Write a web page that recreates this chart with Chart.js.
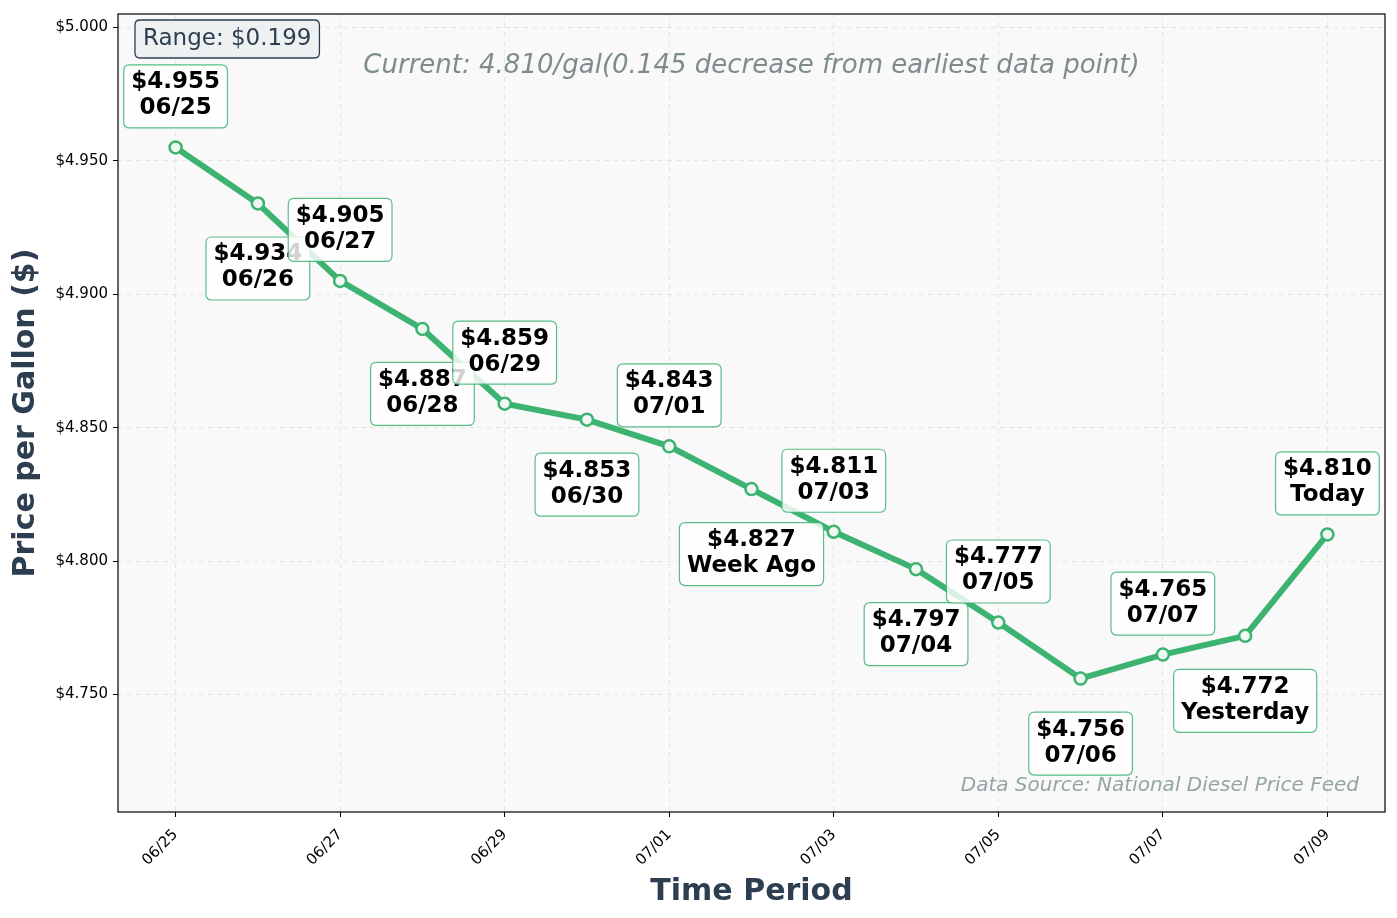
<!DOCTYPE html>
<html>
<head>
<meta charset="utf-8">
<script src="https://cdn.jsdelivr.net/npm/chart.js@4.4.1/dist/chart.umd.min.js"></script>
<style>
  html, body { margin: 0; padding: 0; background: #ffffff; }
  #wrap { position: relative; width: 1397px; height: 918px; }
</style>
</head>
<body>
<div id="wrap"><canvas id="chart" width="1397" height="918"></canvas></div>
<script>
const dates = ['06/25','06/26','06/27','06/28','06/29','06/30','07/01','07/02','07/03','07/04','07/05','07/06','07/07','07/08','07/09'];
const prices = [4.955, 4.934, 4.905, 4.887, 4.859, 4.853, 4.843, 4.827, 4.811, 4.797, 4.777, 4.756, 4.765, 4.772, 4.810];
const pointNames = ['06/25','06/26','06/27','06/28','06/29','06/30','07/01','Week Ago','07/03','07/04','07/05','07/06','07/07','Yesterday','Today'];
const yTicks = [4.750, 4.800, 4.850, 4.900, 4.950, 5.000];
const xTicks = [0, 2, 4, 6, 8, 10, 12, 14];

const green = '#3cb371', navy = '#2c3e50';
const FONT = "'DejaVu Sans', sans-serif";

const yMin = Math.min(...prices) - 0.05, yMax = Math.max(...prices) + 0.05;
const first = prices[0], last = prices[prices.length - 1];
const range = Math.max(...prices) - Math.min(...prices);

function roundRect(ctx, x, y, w, h, r) {
  ctx.beginPath();
  ctx.moveTo(x + r, y);
  ctx.lineTo(x + w - r, y);
  ctx.quadraticCurveTo(x + w, y, x + w, y + r);
  ctx.lineTo(x + w, y + h - r);
  ctx.quadraticCurveTo(x + w, y + h, x + w - r, y + h);
  ctx.lineTo(x + r, y + h);
  ctx.quadraticCurveTo(x, y + h, x, y + h - r);
  ctx.lineTo(x, y + r);
  ctx.quadraticCurveTo(x, y, x + r, y);
  ctx.closePath();
}

const decorPlugin = {
  id: 'decor',
  beforeDraw(chart) {
    const { ctx, chartArea: a } = chart;
    ctx.save();
    ctx.fillStyle = '#f9f9f9';
    ctx.fillRect(a.left, a.top, a.right - a.left, a.bottom - a.top);
    ctx.restore();
  },
  afterDatasetsDraw(chart) {
    const { ctx, chartArea: a } = chart;
    const xs = chart.scales.x, ys = chart.scales.y;
    ctx.save();
    // point annotations
    ctx.font = "bold 23px " + FONT;
    prices.forEach((p, i) => {
      const px = xs.getPixelForValue(i), py = ys.getPixelForValue(p);
      const cy = i % 2 === 0 ? py - 51 : py + 65;
      const l1 = '$' + p.toFixed(3), l2 = pointNames[i];
      const tw = Math.max(ctx.measureText(l1).width, ctx.measureText(l2).width);
      const w = tw + 15, h = 63;
      roundRect(ctx, px - w / 2, cy - h / 2, w, h, 6);
      ctx.fillStyle = 'rgba(255,255,255,0.82)';
      ctx.fill();
      ctx.lineWidth = 1.2;
      ctx.strokeStyle = 'rgba(60,179,113,0.85)';
      ctx.stroke();
      ctx.fillStyle = '#000';
      ctx.textAlign = 'center';
      ctx.textBaseline = 'middle';
      ctx.fillText(l1, px, cy - 14);
      ctx.fillText(l2, px, cy + 12);
    });
    // range box
    ctx.font = "23px " + FONT;
    const rt = 'Range: $' + range.toFixed(3);
    const rw = ctx.measureText(rt).width + 16;
    roundRect(ctx, 135, 20, rw, 38, 5);
    ctx.fillStyle = 'rgba(236,240,241,0.9)';
    ctx.fill();
    ctx.lineWidth = 1.3;
    ctx.strokeStyle = navy;
    ctx.stroke();
    ctx.fillStyle = navy;
    ctx.textAlign = 'left';
    ctx.textBaseline = 'middle';
    ctx.fillText(rt, 143, 39);
    // current text
    ctx.font = "italic 26px " + FONT;
    ctx.fillStyle = '#7f8c8d';
    ctx.textAlign = 'center';
    const diff = first - last;
    ctx.fillText('Current: ' + last.toFixed(3) + '/gal(' + Math.abs(diff).toFixed(3) + ' ' + (diff > 0 ? 'decrease' : 'increase') + ' from earliest data point)', (a.left + a.right) / 2, 66);
    // source
    ctx.font = "italic 20px " + FONT;
    ctx.fillStyle = '#95a5a6';
    ctx.textAlign = 'right';
    ctx.fillText('Data Source: National Diesel Price Feed', a.right - 26, 786);
    // frame
    ctx.lineWidth = 1.2;
    ctx.strokeStyle = '#000';
    ctx.strokeRect(a.left, a.top, a.right - a.left, a.bottom - a.top);
    ctx.restore();
  }
};

new Chart(document.getElementById('chart'), {
  type: 'line',
  data: {
    datasets: [{
      data: prices.map((p, i) => ({ x: i, y: p })),
      borderColor: green,
      borderWidth: 6,
      pointRadius: 6,
      pointBackgroundColor: '#eef8f1',
      pointBorderColor: green,
      pointBorderWidth: 2.5,
      tension: 0
    }]
  },
  options: {
    responsive: false,
    animation: false,
    layout: { padding: { top: 12, right: 12, left: 0, bottom: 0 } },
    plugins: { legend: { display: false }, tooltip: { enabled: false } },
    scales: {
      x: {
        type: 'linear',
        min: -0.7,
        max: 14.7,
        afterBuildTicks(s) { s.ticks = xTicks.map(v => ({ value: v })); },
        afterFit(s) { s.height = 106; },
        grid: { color: 'rgba(0,0,0,0.08)', tickColor: '#000', tickLength: 5, lineWidth: 1 },
        border: { display: false, dash: [5, 4] },
        ticks: {
          autoSkip: false, minRotation: 45, maxRotation: 45,
          color: '#000', font: { family: FONT, size: 15 }, padding: 9,
          callback: v => dates[v]
        },
        title: { display: true, text: 'Time Period', color: navy, font: { family: FONT, size: 30, weight: 'bold' }, padding: { top: 0, bottom: 8 } }
      },
      y: {
        min: yMin,
        max: yMax,
        afterBuildTicks(s) { s.ticks = yTicks.map(v => ({ value: v })); },
        afterFit(s) { s.width = 118; },
        grid: { color: 'rgba(0,0,0,0.08)', tickColor: '#000', tickLength: 5 },
        border: { display: false, dash: [5, 4] },
        ticks: { color: '#000', font: { family: FONT, size: 15 }, padding: 5, callback: v => '$' + v.toFixed(3) },
        title: { display: true, text: 'Price per Gallon ($)', color: navy, font: { family: FONT, size: 30, weight: 'bold' }, padding: { top: 8, bottom: 0 } }
      }
    }
  },
  plugins: [decorPlugin]
});
</script>
</body>
</html>
